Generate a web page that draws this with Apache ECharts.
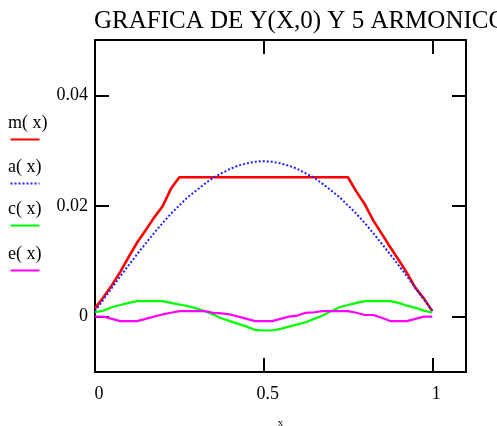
<!DOCTYPE html>
<html>
<head>
<meta charset="utf-8">
<script src="https://cdn.jsdelivr.net/npm/echarts@6/dist/echarts.min.js"></script>
<style>
html, body { margin: 0; padding: 0; background: #fff; }
#chart { width: 497px; height: 426px; }
</style>
</head>
<body>
<div id="chart"></div>
<script>
// x samples shared by all curves
var xs = [0, 0.025, 0.05, 0.075, 0.1, 0.125, 0.15, 0.175, 0.2, 0.225,
    0.25, 0.275, 0.3, 0.325, 0.35, 0.375, 0.4, 0.425, 0.45, 0.475,
    0.5, 0.525, 0.55, 0.575, 0.6, 0.625, 0.65, 0.675, 0.7, 0.725,
    0.75, 0.775, 0.8, 0.825, 0.85, 0.875, 0.9, 0.925, 0.95, 0.975, 1];
// m(x): Y(x,0)
var mVals = [0.0015, 0.0035, 0.0057, 0.0081, 0.0108, 0.0134, 0.0156, 0.0179, 0.0199, 0.0231,
    0.0252, 0.0252, 0.0252, 0.0252, 0.0252, 0.0252, 0.0252, 0.0252, 0.0252, 0.0252,
    0.0252, 0.0252, 0.0252, 0.0252, 0.0252, 0.0252, 0.0252, 0.0252, 0.0252, 0.0252,
    0.0252, 0.0226, 0.0203, 0.0174, 0.0150, 0.0126, 0.0103, 0.0079, 0.0052, 0.0033, 0.0010];
// a(x)
var aVals = [0.0010, 0.0031, 0.0052, 0.0073, 0.0093, 0.0113, 0.0132, 0.0151, 0.0169, 0.0186,
    0.0201, 0.0216, 0.0228, 0.0240, 0.0251, 0.0259, 0.0267, 0.0273, 0.0277, 0.0280,
    0.0281, 0.0280, 0.0277, 0.0273, 0.0267, 0.0259, 0.0251, 0.0240, 0.0228, 0.0216,
    0.0201, 0.0186, 0.0169, 0.0151, 0.0132, 0.0113, 0.0093, 0.0073, 0.0052, 0.0031, 0.0011];
// c(x)
var cVals = [0.0008, 0.0011, 0.0017, 0.0021, 0.0025, 0.0028, 0.0028, 0.0028, 0.0028, 0.0025,
    0.0022, 0.0019, 0.0015, 0.0010, 0.0004, -0.0003, -0.0008, -0.0013, -0.0018, -0.0024,
    -0.0025, -0.0025, -0.0022, -0.0018, -0.0014, -0.0010, -0.0004, 0.0002, 0.0010, 0.0017,
    0.0021, 0.0025, 0.0028, 0.0028, 0.0028, 0.0028, 0.0025, 0.0020, 0.0016, 0.0011, 0.0007];
// e(x)
var eVals = [0.0, 0.0, -0.0004, -0.0008, -0.0008, -0.0008, -0.0004, 0.0, 0.0004, 0.0007,
    0.0010, 0.0010, 0.0010, 0.0010, 0.0007, 0.0006, 0.0004, 0.0, -0.0004, -0.0008,
    -0.0008, -0.0008, -0.0004, 0.0, 0.0002, 0.0007, 0.0008, 0.0010, 0.0010, 0.0010,
    0.0010, 0.0007, 0.0003, 0.0003, -0.0002, -0.0008, -0.0008, -0.0008, -0.0004, 0.0, 0.0];

var xTicks = [0, 0.5, 1];
var yTicks = [0, 0.02, 0.04];
var names = ['m( x)', 'a( x)', 'c( x)', 'e( x)'];
var colors = ['#ff0000', '#2020ff', '#00ff00', '#ff00ff'];

var serif = '"Liberation Serif", "DejaVu Serif", serif';

function pairs(vals) {
    return xs.map(function (x, i) { return [x, vals[i]]; });
}

var chart = echarts.init(document.getElementById('chart'), null, { renderer: 'canvas' });

var boxLine = { show: true, onZero: false, lineStyle: { color: '#000', width: 2 } };
var tickIn = function (vals) {
    return { show: true, inside: true, length: 14, customValues: vals, lineStyle: { color: '#000', width: 2 } };
};

// legend on the left: label with a short sample line under it
var legendGraphics = [];
var legendTop = [114, 158, 200, 245];
names.forEach(function (n, i) {
    legendGraphics.push({
        type: 'text', left: 8, top: legendTop[i],
        style: { text: n, font: '18px ' + serif, fill: '#000' }
    });
    legendGraphics.push({
        type: 'line', left: 8, top: legendTop[i] + 23,
        shape: { x1: 0, y1: 0, x2: 29, y2: 0 },
        style: { stroke: colors[i], lineWidth: 2, lineDash: i === 1 ? [2, 2] : null }
    });
});

var option = {
    animation: false,
    backgroundColor: '#fff',
    title: {
        text: 'GRAFICA DE Y(X,0) Y 5 ARMONICOS',
        left: 89, top: 4,
        textStyle: { fontFamily: serif, fontSize: 25, fontWeight: 'normal', color: '#000' }
    },
    grid: { left: 95, right: 31, top: 40, bottom: 54, containLabel: false, outerBoundsMode: 'none' },
    xAxis: [{
        type: 'value', min: 0, max: 1.1, position: 'bottom',
        axisLine: boxLine, axisTick: tickIn(xTicks), splitLine: { show: false },
        axisLabel: { customValues: xTicks, margin: 13, padding: [0, 0, 0, 8], color: '#000',
            fontFamily: serif, fontSize: 18, formatter: function (v) { return String(v); } },
        name: 'x', nameLocation: 'middle', nameGap: 46,
        nameTextStyle: { fontFamily: serif, fontSize: 11, color: '#000' }
    }, {
        type: 'value', min: 0, max: 1.1, position: 'top',
        axisLine: boxLine, axisTick: tickIn([0.5, 1]), splitLine: { show: false },
        axisLabel: { show: false }
    }],
    yAxis: [{
        type: 'value', min: -0.01, max: 0.05, position: 'left',
        axisLine: boxLine, axisTick: tickIn(yTicks), splitLine: { show: false },
        axisLabel: { customValues: yTicks, margin: 7, color: '#000', fontFamily: serif, fontSize: 18,
            formatter: function (v) { return String(v); } }
    }, {
        type: 'value', min: -0.01, max: 0.05, position: 'right',
        axisLine: boxLine, axisTick: tickIn(yTicks), splitLine: { show: false },
        axisLabel: { show: false }
    }],
    graphic: legendGraphics,
    series: [
        { name: names[0], type: 'line', data: pairs(mVals), showSymbol: false,
            lineStyle: { color: colors[0], width: 2.6 } },
        { name: names[1], type: 'line', data: pairs(aVals), showSymbol: false,
            lineStyle: { color: colors[1], width: 2, type: [2, 2] } },
        { name: names[2], type: 'line', data: pairs(cVals), showSymbol: false,
            lineStyle: { color: colors[2], width: 2.2 } },
        { name: names[3], type: 'line', data: pairs(eVals), showSymbol: false,
            lineStyle: { color: colors[3], width: 2.2 } }
    ]
};
chart.setOption(option);
</script>
</body>
</html>
